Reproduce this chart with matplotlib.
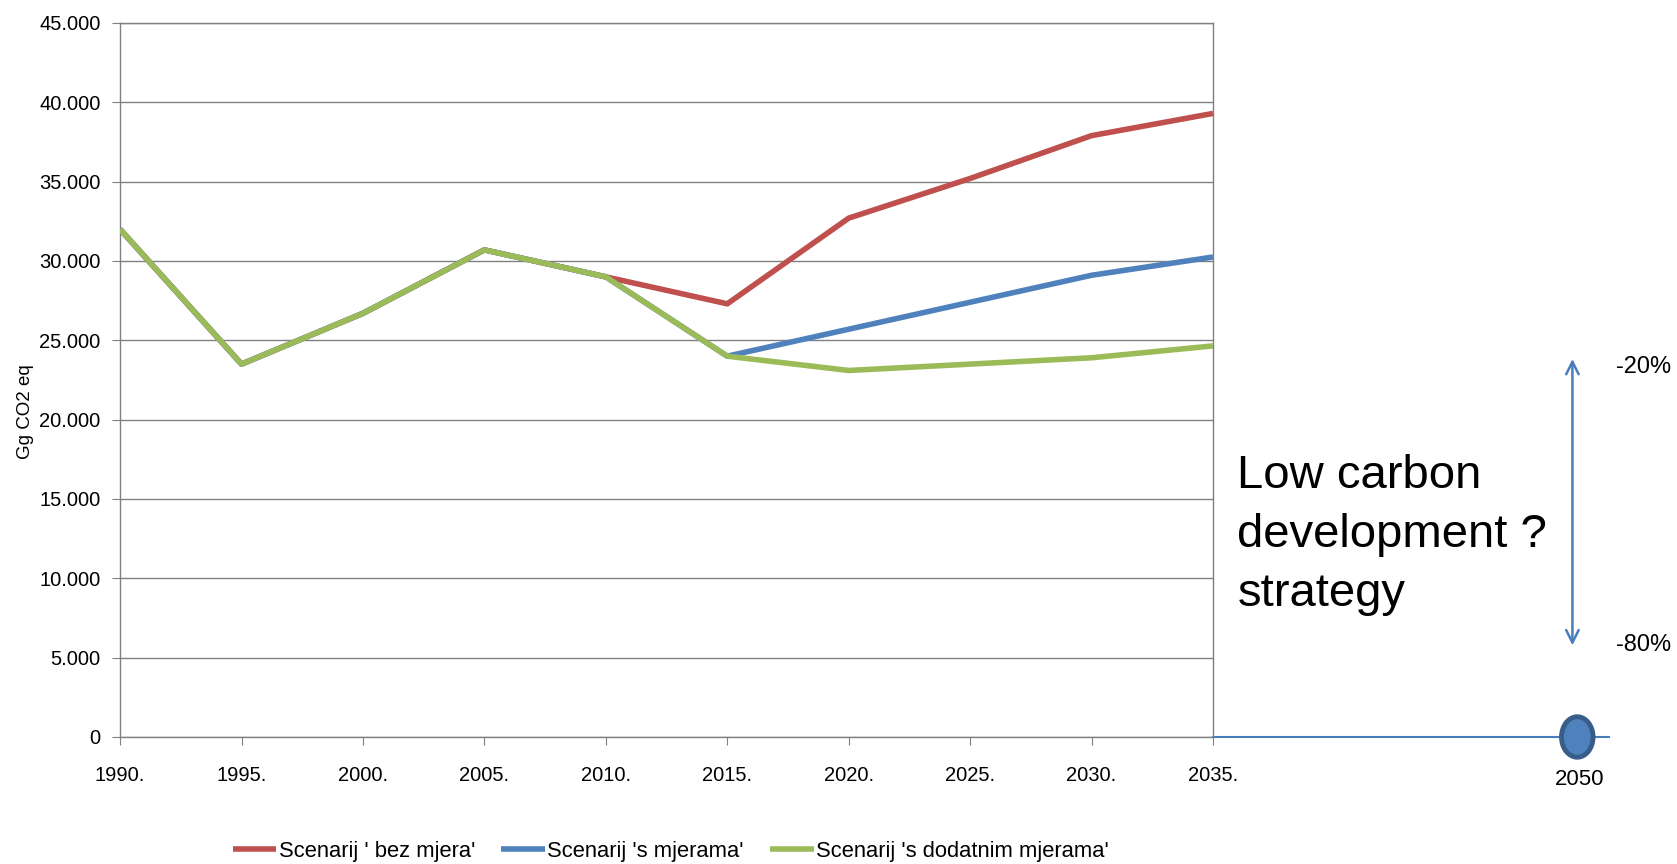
import numpy as np
import matplotlib.pyplot as plt
from matplotlib.patches import Ellipse

years = [1990, 1995, 2000, 2005, 2010, 2015, 2020, 2025, 2030, 2035]
bez_mjera = [32000, 23500, 26700, 30700, 29000, 27300, 32700, 35200, 37900, 39300]
s_mjerama = [32000, 23500, 26700, 30700, 29000, 24000, 25700, 27400, 29100, 30250]
s_dodatnim = [32000, 23500, 26700, 30700, 29000, 24000, 23100, 23500, 23900, 24650]
labels = ["Scenarij ' bez mjera'", "Scenarij 's mjerama'", "Scenarij 's dodatnim mjerama'"]
colors = ['#C0504D', '#4F81BD', '#9BBB59']
yticks = np.arange(0, 45001, 5000)

font = ['Liberation Sans', 'DejaVu Sans']
plt.rcParams['font.family'] = font

fig = plt.figure(figsize=(16.77, 8.64), dpi=100)
ax = fig.add_axes([0.0716, 0.147, 0.6517, 0.8264])

for vals, lab, c in zip([bez_mjera, s_mjerama, s_dodatnim], labels, colors):
    ax.plot(years, vals, color=c, lw=4, label=lab, solid_capstyle='butt', zorder=3)

ax.set_xlim(1990, 2035)
ax.set_ylim(0, 45000)
ax.set_xticks(years)
ax.set_xticklabels([f"{y}." for y in years], fontsize=14.5)
ax.set_yticks(yticks)
ax.set_yticklabels(['0'] + [f"{v // 1000}.000" for v in yticks[1:]], fontsize=14.5)
ax.grid(axis='y', color='#808080', lw=1)
ax.set_axisbelow(True)
for s in ax.spines.values():
    s.set_color('#808080')
    s.set_linewidth(1)
ax.tick_params(axis='y', direction='out', length=6, color='#808080', pad=8)
ax.tick_params(axis='x', direction='out', length=6, color='#808080', pad=15)
ax.set_ylabel('Gg CO2 eq', fontsize=13.5)
ax.yaxis.set_label_coords(-0.079, 0.456)

# 2050 target area, outside the axes
ax.plot([2035, 2051.3], [0, 0], color='#4A7EBB', lw=1.5, clip_on=False)
ax.add_patch(Ellipse((2050, 0), 1.3, 2550, facecolor='#4F81BD', edgecolor='#385D8A',
                     lw=3.5, clip_on=False, zorder=5))
ax.text(2050.1, -2650, '2050', fontsize=16, ha='center', va='center')
ax.annotate('', xy=(2049.8, 24000), xytext=(2049.8, 5600), annotation_clip=False,
            arrowprops=dict(arrowstyle='<->,head_length=0.9,head_width=0.45',
                            color='#4A7EBB', lw=1.8))
ax.text(2051.6, 23300, '-20%', fontsize=17, va='center')
ax.text(2051.6, 5800, '-80%', fontsize=17, va='center')
ax.text(2036.0, 12730, 'Low carbon\ndevelopment ?\nstrategy', fontsize=34,
        va='center', ha='left', linespacing=1.45)

fig.legend(loc='center', bbox_to_anchor=(0.40, 0.015), ncol=3, frameon=False,
           prop={'size': 15.8}, handlelength=2.0, handletextpad=0.1,
           columnspacing=1.2)

fig.savefig('out.png', dpi=100)
